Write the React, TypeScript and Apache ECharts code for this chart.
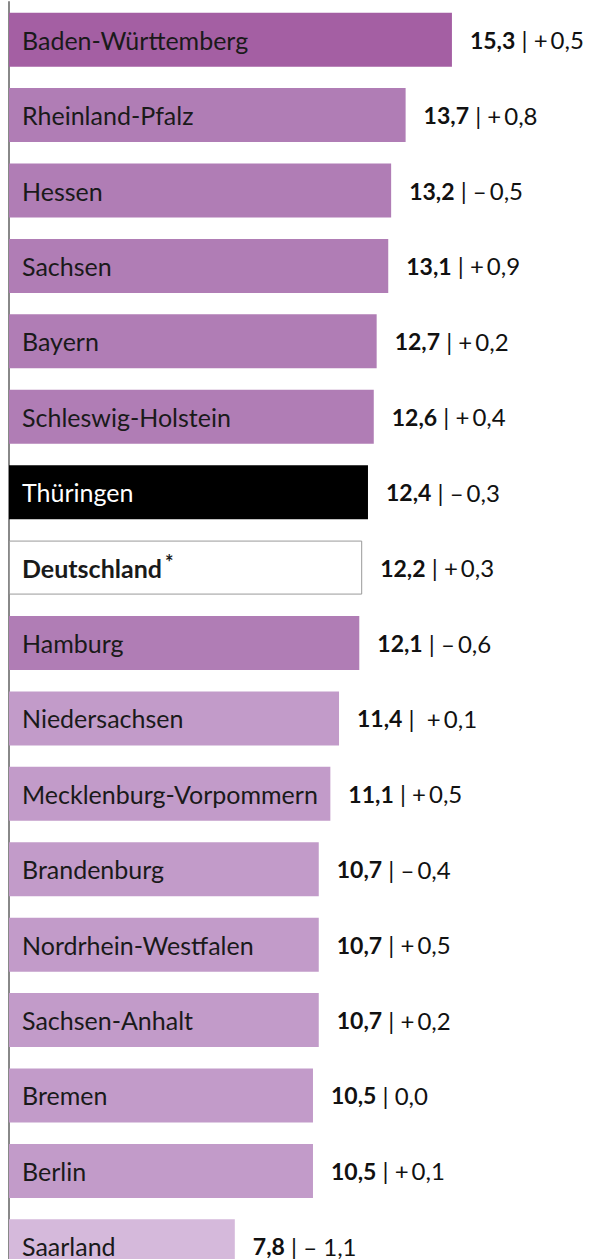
import React, { useEffect, useRef } from "react";
import * as echarts from "echarts";

const categories = [
  "Baden-Württemberg", "Rheinland-Pfalz", "Hessen", "Sachsen", "Bayern",
  "Schleswig-Holstein", "Thüringen", "Deutschland", "Hamburg", "Niedersachsen",
  "Mecklenburg-Vorpommern", "Brandenburg", "Nordrhein-Westfalen", "Sachsen-Anhalt",
  "Bremen", "Berlin", "Saarland",
];
const values = [15.3, 13.7, 13.2, 13.1, 12.7, 12.6, 12.4, 12.2, 12.1, 11.4, 11.1, 10.7, 10.7, 10.7, 10.5, 10.5, 7.8];
const changes = ["+\u20090,5", "+\u20090,8", "–\u20090,5", "+\u20090,9", "+\u20090,2", "+\u20090,4", "–\u20090,3", "+\u20090,3", "–\u20090,6", " +\u20090,1", "+\u20090,5", "–\u20090,4", "+\u20090,5", "+\u20090,2", "0,0", "+\u20090,1", "– 1,1"];
const tiers = [0, 1, 1, 1, 1, 1, 9, 8, 1, 2, 2, 2, 2, 2, 2, 2, 3];
const tierColors: Record<number, string> = { 0: "#a45fa3", 1: "#b07db5", 2: "#c29bc9", 3: "#d5b9db", 9: "#000000", 8: "#ffffff" };

const FONT = "Lato";

export default function App() {
  const ref = useRef<HTMLDivElement>(null);
  useEffect(() => {
    if (!ref.current) return;
    const chart = echarts.init(ref.current, null, { renderer: "svg" });
    const fmt = (v: number) => v.toFixed(1).replace(".", ",");
    chart.setOption({
      animation: false,
      grid: { left: 9, top: 2, width: 579, height: 1282, containLabel: false, outerBoundsMode: "none" },
      xAxis: { type: "value", min: 0, max: 20, show: false },
      yAxis: {
        type: "category",
        data: categories,
        inverse: true,
        axisLine: { show: true, lineStyle: { color: "#888888", width: 2 } },
        axisTick: { show: false },
        axisLabel: { show: false },
      },
      series: [
        {
          type: "bar",
          barWidth: 54,
          data: values.map((v, i) => ({
            value: v,
            itemStyle: {
              color: tierColors[tiers[i]],
              borderColor: tiers[i] === 8 ? "#999999" : undefined,
              borderWidth: tiers[i] === 8 ? 1 : 0,
            },
            label: {
              show: true,
              position: "insideLeft",
              distance: 13,
              formatter: tiers[i] === 8 ? "{b|" + categories[i] + "}{s|*}" : categories[i],
              color: tiers[i] === 9 ? "#ffffff" : "#1a1a1a",
              fontFamily: FONT,
              fontSize: 25,
              rich: {
                b: { fontFamily: FONT, fontSize: 25, fontWeight: "bold", color: "#1a1a1a" },
                s: { fontFamily: FONT, fontSize: 20, fontWeight: "bold", color: "#1a1a1a", padding: [0, 0, 12, 3] },
              },
            },
          })),
        },
        {
          type: "bar",
          barWidth: 54,
          barGap: "-100%",
          itemStyle: { color: "transparent" },
          silent: true,
          data: values.map((v, i) => ({
            value: v,
            label: {
              show: true,
              position: "right",
              distance: 18,
              formatter: "{v|" + fmt(v) + "}{r| | " + changes[i] + "}",
              rich: {
                v: { fontFamily: FONT, fontSize: 23, fontWeight: "bold", color: "#111111" },
                r: { fontFamily: FONT, fontSize: 24, color: "#111111" },
              },
            },
          })),
        },
      ],
    });
    return () => chart.dispose();
  }, []);
  return (
    <div
      ref={ref}
      style={{ position: "fixed", left: 0, top: 0, width: 591, height: 1259, background: "#ffffff" }}
    />
  );
}
